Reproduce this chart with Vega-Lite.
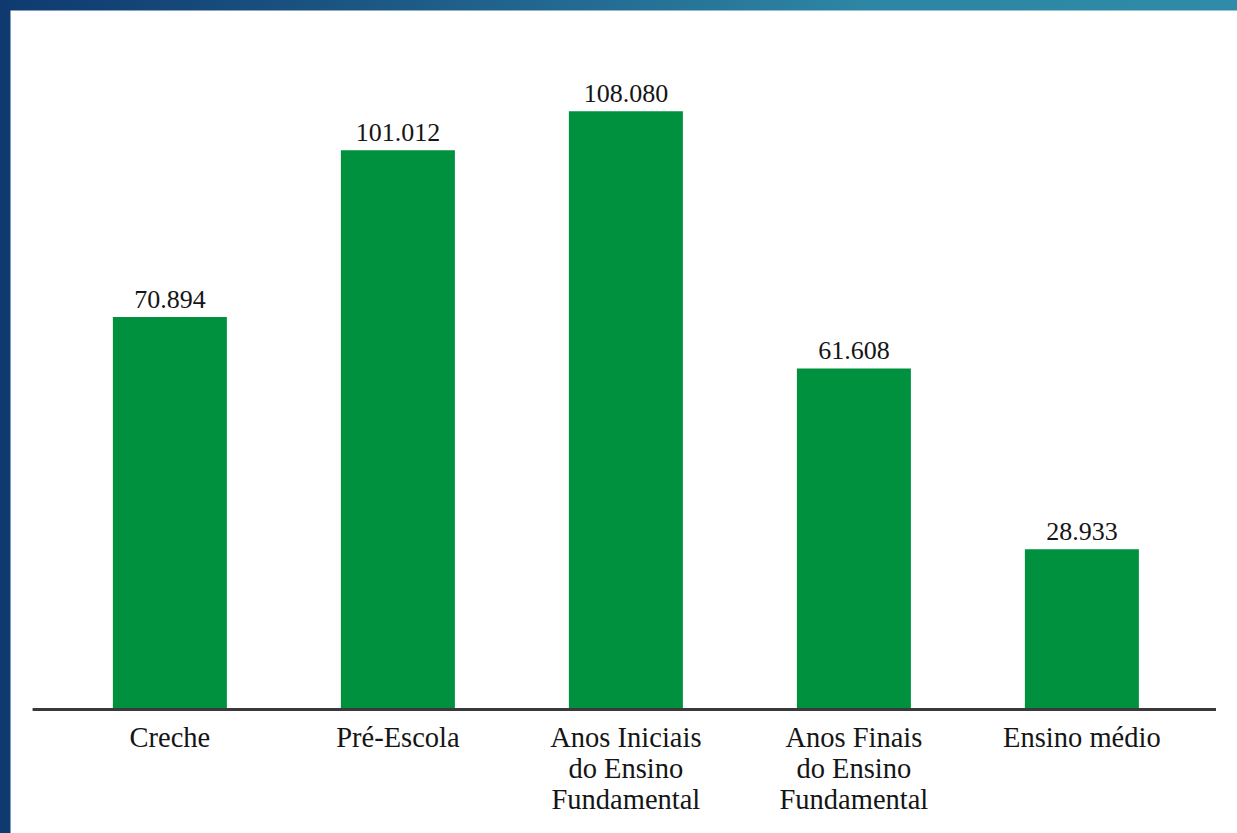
{
  "$schema": "https://vega.github.io/schema/vega-lite/v6.json",
  "autosize": {"type": "fit", "contains": "padding"},
  "width": 1237,
  "height": 833,
  "padding": 0,
  "background": "white",
  "config": {
    "view": {
      "fill": "white",
      "stroke": {
        "gradient": "linear",
        "x1": 0, "y1": 0, "x2": 1, "y2": 0,
        "stops": [
          {"offset": 0, "color": "#0e3a70"},
          {"offset": 0.25, "color": "#1a5280"},
          {"offset": 0.5, "color": "#256e95"},
          {"offset": 0.7, "color": "#2d86a3"},
          {"offset": 1, "color": "#2f8ba7"}
        ]
      },
      "strokeWidth": 21,
      "strokeDash": [1237, 2070, 833]
    }
  },
  "data": {
    "values": [
      {"etapa": "Creche", "label": "Creche", "valor": 70894, "texto": "70.894"},
      {"etapa": "Pré-Escola", "label": "Pré-Escola", "valor": 101012, "texto": "101.012"},
      {"etapa": "Anos Iniciais", "label": "Anos Iniciais\ndo Ensino\nFundamental", "valor": 108080, "texto": "108.080"},
      {"etapa": "Anos Finais", "label": "Anos Finais\ndo Ensino\nFundamental", "valor": 61608, "texto": "61.608"},
      {"etapa": "Ensino médio", "label": "Ensino médio", "valor": 28933, "texto": "28.933"}
    ]
  },
  "encoding": {
    "x": {
      "field": "etapa",
      "type": "nominal",
      "sort": null,
      "axis": null,
      "scale": {"paddingInner": 0.5, "paddingOuter": 0.4627, "align": 0.535}
    }
  },
  "layer": [
    {
      "mark": {"type": "bar", "color": "#00913f"},
      "encoding": {
        "y": {
          "field": "valor",
          "type": "quantitative",
          "axis": null,
          "scale": {"domain": [-22309, 128161], "nice": false, "zero": false}
        }
      }
    },
    {
      "mark": {"type": "text", "font": "'Times New Roman', 'Liberation Serif', serif", "color": "#151515", "baseline": "alphabetic", "align": "center", "dy": -9.5, "fontSize": 26},
      "encoding": {
        "y": {"field": "valor", "type": "quantitative"},
        "text": {"field": "texto"}
      }
    },
    {
      "mark": {"type": "text", "font": "'Times New Roman', 'Liberation Serif', serif", "color": "#151515", "baseline": "alphabetic", "align": "center", "fontSize": 28.5, "lineHeight": 31, "lineBreak": "\n"},
      "encoding": {
        "y": {"datum": -6720, "type": "quantitative"},
        "text": {"field": "label"}
      }
    },
    {
      "mark": {"type": "rule", "color": "#3a3a3a", "strokeWidth": 2.5},
      "encoding": {
        "x": {"datum": "Creche", "bandPosition": -0.7018},
        "x2": {"datum": "Ensino médio", "bandPosition": 1.675},
        "y": {"datum": 0, "type": "quantitative"}
      }
    }
  ]
}
